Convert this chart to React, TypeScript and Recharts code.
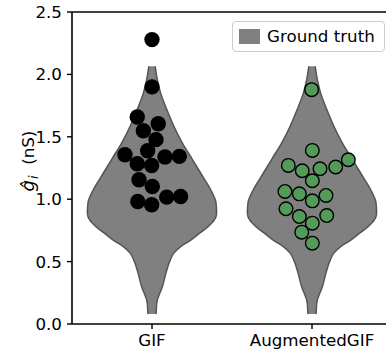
import React from 'react';
import { ComposedChart, Area, Scatter, XAxis, YAxis, Legend, ReferenceLine } from 'recharts';

const categories = ['GIF', 'AugmentedGIF'];
const yTicks = [0, 0.5, 1, 1.5, 2, 2.5];

// Ground-truth violin outline: value level and half width (in category units)
const violinLevels = [0.08, 0.17, 0.3, 0.43, 0.51, 0.57, 0.62, 0.67, 0.73, 0.78, 0.835, 0.89, 0.97, 1.08, 1.18, 1.32, 1.45, 1.58, 1.72, 1.85, 1.96, 2.065];
const violinHalfWidths = [0.026, 0.03, 0.065, 0.092, 0.113, 0.138, 0.179, 0.24, 0.3, 0.35, 0.39, 0.404, 0.4, 0.365, 0.318, 0.252, 0.19, 0.138, 0.092, 0.054, 0.033, 0.02];

// GIF estimates
const gifValues = [2.279, 1.9, 1.659, 1.605, 1.549, 1.477, 1.388, 1.356, 1.338, 1.343, 1.284, 1.27, 1.156, 1.102, 0.982, 0.955, 1.017, 1.022];
const gifOffsets = [0, 0, -0.092, 0.039, -0.054, 0.025, -0.027, -0.169, 0.081, 0.171, -0.092, -0.002, -0.081, 0.002, -0.089, -0.002, 0.092, 0.179];

// AugmentedGIF estimates
const augValues = [1.878, 1.391, 1.271, 1.228, 1.244, 1.258, 1.316, 1.148, 1.062, 1.043, 1.03, 0.987, 0.923, 0.861, 0.869, 0.808, 0.736, 0.648];
const augOffsets = [-0.002, 0.002, -0.148, -0.061, 0.05, 0.148, 0.227, 0.002, -0.169, -0.079, 0.0875, 0.002, -0.1625, -0.079, 0.092, 0.002, -0.064, 0.002];

const violinData = violinLevels.map((y, i) => ({
  y,
  gif: [0 - violinHalfWidths[i], 0 + violinHalfWidths[i]],
  aug: [1 - violinHalfWidths[i], 1 + violinHalfWidths[i]],
}));
const gifPoints = gifValues.map((y, i) => ({ x: 0 + gifOffsets[i], y }));
const augPoints = augValues.map((y, i) => ({ x: 1 + augOffsets[i], y }));

const FONT = 'DejaVu Sans';
const FS = 16.7;

const YLabel = (props: any) => {
  const vb = props.viewBox || { x: 0, y: 12, width: 72, height: 312 };
  const cx = 34;
  const cy = vb.y + vb.height / 2 - 7;
  return (
    <text
      x={cx}
      y={cy}
      transform={`rotate(-90, ${cx}, ${cy})`}
      textAnchor="middle"
      fontFamily={FONT}
      fontSize={FS}
      fill="#000"
    >
      <tspan fontStyle="italic" fontSize={18}>ĝ</tspan>
      <tspan fontStyle="italic" fontSize={12.5} dx={1} dy={4}>i</tspan>
      <tspan dy={-4}>{'\u00a0\u00a0(nS)'}</tspan>
    </text>
  );
};

const GIFDot = (props: any) => <circle cx={props.cx} cy={props.cy} r={7.7} fill="#000" />;
const AugDot = (props: any) => (
  <circle cx={props.cx} cy={props.cy} r={6.8} fill="#529b59" stroke="#000" strokeWidth={1.4} />
);

const LegendContent = (props: any) => {
  const items = (props.payload || []).filter((p: any) => p.type !== 'none');
  return (
    <div
      style={{
        boxSizing: 'border-box',
        width: 153,
        height: 31,
        border: '1.3px solid #cccccc',
        borderRadius: 4,
        background: 'rgba(255,255,255,0.8)',
        display: 'flex',
        alignItems: 'center',
        paddingLeft: 6,
        fontFamily: FONT,
        fontSize: FS,
        color: '#000',
      }}
    >
      {items.map((p: any) => (
        <React.Fragment key={p.value}>
          <span style={{ display: 'inline-block', width: 21, height: 15, background: '#808080', marginRight: 7 }} />
          <span style={{ lineHeight: '1' }}>{p.value}</span>
        </React.Fragment>
      ))}
    </div>
  );
};

export default function App() {
  return (
    <div style={{ position: 'absolute', left: 0, top: 0, width: 386, height: 350, overflow: 'hidden', background: '#fff' }}>
      <ComposedChart
        width={400}
        height={350}
        layout="vertical"
        data={violinData}
        margin={{ top: 12, right: 8, bottom: 0, left: 0 }}
        style={{ fontFamily: FONT }}
      >
        <XAxis
          type="number"
          dataKey="x"
          domain={[-0.5, 1.5]}
          allowDataOverflow
          ticks={[0, 1]}
          tickFormatter={(v: number) => categories[Math.round(v)]}
          height={26}
          tickSize={5}
          tickMargin={5}
          tick={{ fill: '#000', fontSize: FS, fontFamily: FONT }}
          axisLine={{ stroke: '#000', strokeWidth: 1.6 }}
          tickLine={{ stroke: '#000', strokeWidth: 1.4 }}
        />
        <YAxis
          type="number"
          dataKey="y"
          domain={[0, 2.5]}
          reversed
          allowDataOverflow
          ticks={yTicks}
          tickFormatter={(v: number) => v.toFixed(1)}
          width={72}
          tickSize={5}
          tickMargin={5}
          tick={{ fill: '#000', fontSize: FS, fontFamily: FONT }}
          axisLine={{ stroke: '#000', strokeWidth: 1.6 }}
          tickLine={{ stroke: '#000', strokeWidth: 1.4 }}
          label={YLabel}
        />
        <ReferenceLine y={2.5} stroke="#000" strokeWidth={1.6} ifOverflow="visible" />
        <Area
          dataKey="gif"
          name="Ground truth"
          type="monotone"
          fill="#808080"
          fillOpacity={1}
          stroke="#555555"
          strokeWidth={1.5}
          isAnimationActive={false}
          dot={false}
          activeDot={false}
        />
        <Area
          dataKey="aug"
          name="Ground truth (AugmentedGIF)"
          legendType="none"
          type="monotone"
          fill="#808080"
          fillOpacity={1}
          stroke="#555555"
          strokeWidth={1.5}
          isAnimationActive={false}
          dot={false}
          activeDot={false}
        />
        <Scatter data={gifPoints} dataKey="x" legendType="none" shape={GIFDot} isAnimationActive={false} />
        <Scatter data={augPoints} dataKey="x" legendType="none" shape={AugDot} isAnimationActive={false} />
        <Legend
          layout="vertical"
          align="center"
          verticalAlign="middle"
          wrapperStyle={{ left: 232, top: 21, width: 153, height: 31 }}
          content={LegendContent}
        />
      </ComposedChart>
    </div>
  );
}
